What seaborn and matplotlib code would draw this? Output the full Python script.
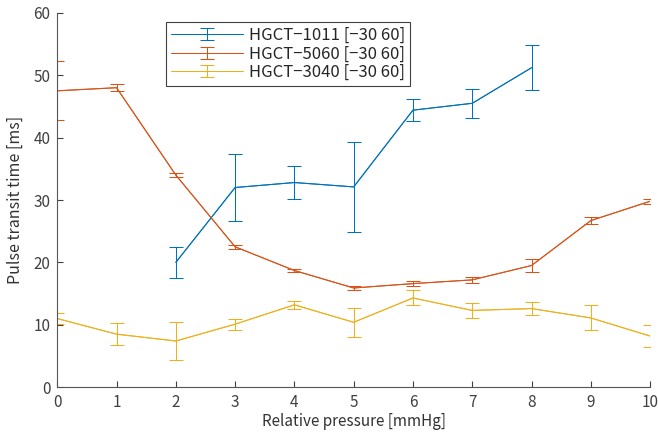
# Pulse transit time vs relative pressure, three sensors
import numpy as np
import pandas as pd
import matplotlib
matplotlib.use('Agg')
import matplotlib.pyplot as plt
from matplotlib.container import ErrorbarContainer
from matplotlib.legend_handler import HandlerErrorbar
import seaborn as sns

# data
pressure = [0, 1, 2, 3, 4, 5, 6, 7, 8, 9, 10]

p_1011 = [2, 3, 4, 5, 6, 7, 8]
ptt_1011 = [20.0, 32.0, 32.8, 32.1, 44.4, 45.5, 51.2]
err_1011 = [2.5, 5.3, 2.7, 7.2, 1.8, 2.3, 3.6]

ptt_5060 = [47.5, 48.0, 34.0, 22.5, 18.7, 15.9, 16.6, 17.2, 19.5, 26.7, 29.8]
err_5060 = [4.7, 0.6, 0.3, 0.3, 0.3, 0.3, 0.4, 0.5, 1.0, 0.6, 0.4]

ptt_3040 = [11.0, 8.5, 7.4, 10.1, 13.2, 10.4, 14.3, 12.3, 12.6, 11.1, 8.2]
err_3040 = [0.9, 1.8, 3.0, 0.9, 0.6, 2.3, 1.2, 1.2, 1.1, 2.0, 1.8]

labels = ['HGCT\u22121011 [\u221230 60]', 'HGCT\u22125060 [\u221230 60]', 'HGCT\u22123040 [\u221230 60]']
colors = ['#0072BD', '#D95319', '#EDB120']

sns.set_style('ticks')
plt.rcParams['font.family'] = ['Noto Sans CJK JP', 'DejaVu Sans']

fig = plt.figure(figsize=(6.58, 4.42), dpi=100)
ax = fig.add_axes([0.087, 0.124, 0.901, 0.847])

series = [(p_1011, ptt_1011, err_1011),
          (pressure, ptt_5060, err_5060),
          (pressure, ptt_3040, err_3040)]

lw = 0.75
for (x, y, e), lab, c in zip(series, labels, colors):
    df = pd.DataFrame({'p': x, 't': y})
    sns.lineplot(data=df, x='p', y='t', ax=ax, color=c, linewidth=lw, legend=False)
    ax.errorbar(x, y, yerr=e, color=c, linewidth=lw, elinewidth=lw,
                capsize=4.7, capthick=lw, label=lab)

ax.set_xlim(0, 10)
ax.set_ylim(0, 60)
ax.set_xticks(range(0, 11))
ax.set_yticks(range(0, 61, 10))
ax.tick_params(direction='in', length=4, width=0.8, colors='#404040',
               labelsize=11, pad=5)
for s in ['left', 'bottom']:
    ax.spines[s].set_color('#555555')
    ax.spines[s].set_linewidth(0.8)
sns.despine(ax=ax)
ax.set_xlabel('Relative pressure [mmHg]', fontsize=11, color='#333333', labelpad=1)
ax.set_ylabel('Pulse transit time [ms]', fontsize=11.5, color='#333333', labelpad=7)

leg = ax.legend(loc='upper left', bbox_to_anchor=(0.184, 0.976), fontsize=12,
                fancybox=False, framealpha=1, edgecolor='#404040',
                borderpad=0.3, labelspacing=0.1, handlelength=4.3,
                handletextpad=0.35, borderaxespad=0,
                handler_map={ErrorbarContainer: HandlerErrorbar(yerr_size=0.36)})
leg.get_frame().set_linewidth(0.8)
for t in leg.get_texts():
    t.set_color('#262626')

fig.savefig('out.png', dpi=100)
